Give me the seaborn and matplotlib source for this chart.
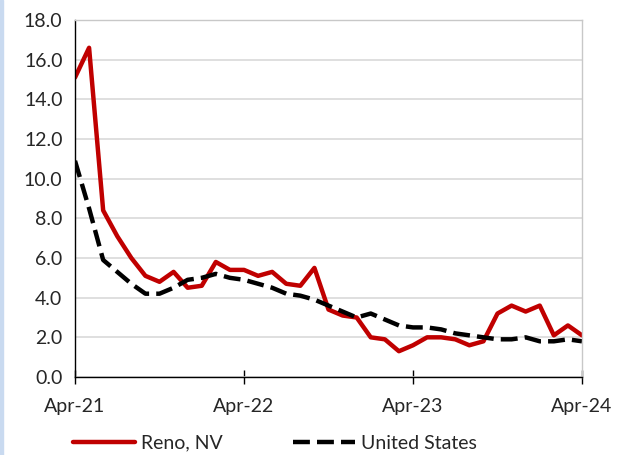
import matplotlib
matplotlib.use("Agg")
import matplotlib.pyplot as plt
import numpy as np
import pandas as pd
import seaborn as sns
from matplotlib.patches import Rectangle

months = pd.date_range("2021-04-01", "2024-04-01", freq="MS")
reno = [15.1, 16.6, 8.4, 7.1, 6.0, 5.1, 4.8, 5.3, 4.5, 4.6, 5.8, 5.4,
        5.4, 5.1, 5.3, 4.7, 4.6, 5.5, 3.4, 3.1, 3.0, 2.0, 1.9, 1.3,
        1.6, 2.0, 2.0, 1.9, 1.6, 1.8, 3.2, 3.6, 3.3, 3.6, 2.1, 2.6,
        2.1]
us = [10.9, 8.5, 5.9, 5.3, 4.7, 4.2, 4.2, 4.5, 4.9, 5.0, 5.2, 5.0,
      4.9, 4.7, 4.5, 4.2, 4.1, 3.9, 3.6, 3.3, 3.0, 3.2, 2.9, 2.6,
      2.5, 2.5, 2.4, 2.2, 2.1, 2.0, 1.9, 1.9, 2.0, 1.8, 1.8, 1.9,
      1.8]
series_names = ["Reno, NV", "United States"]
x_tick_labels = ["Apr-21", "Apr-22", "Apr-23", "Apr-24"]

df = pd.DataFrame({
    "month": np.tile(np.arange(len(months)), 2),
    "value": reno + us,
    "series": np.repeat(series_names, len(months)),
})

sns.set_theme(style="white")
plt.rcParams["font.family"] = ["Lato", "DejaVu Sans"]

fig = plt.figure(figsize=(6.17, 4.55), dpi=100)
ax = fig.add_axes([75 / 617, 1 - 377 / 455, 507 / 617, 357 / 455])

sns.lineplot(
    data=df, x="month", y="value", hue="series", style="series",
    palette={"Reno, NV": "#c00000", "United States": "black"},
    dashes={"Reno, NV": "", "United States": (3.8, 1.6)},
    linewidth=3.2, ax=ax, legend=False,
)

ax.set_xlim(0, len(months) - 1)
ax.set_ylim(0, 18)
ax.set_yticks(np.arange(0, 18.1, 2))
ax.set_yticklabels([f"{v:.1f}" for v in np.arange(0, 18.1, 2)], fontsize=14)
ax.set_xticks(np.arange(0, len(months), 12))
ax.set_xticklabels(x_tick_labels, fontsize=14)
ax.set_xlabel("")
ax.set_ylabel("")

ax.grid(axis="y", color="#d9d9d9", linewidth=1.2)
ax.set_axisbelow(True)
for side in ["top", "right"]:
    ax.spines[side].set_color("#c8c8c8")
    ax.spines[side].set_linewidth(1.0)
for side in ["left", "bottom"]:
    ax.spines[side].set_color("black")
    ax.spines[side].set_linewidth(1.0)

ax.tick_params(axis="x", direction="inout", length=10, width=1, color="black",
               pad=10, bottom=True)
ax.tick_params(axis="y", length=0, pad=9)

handles = [
    plt.Line2D([], [], color="#c00000", linewidth=3.2),
    plt.Line2D([], [], color="black", linewidth=3.2, linestyle=(0, (3.8, 1.6))),
]
fig.legend(handles, series_names, loc="center", bbox_to_anchor=(0.445, 0.026),
           ncol=2, frameon=False, fontsize=14, handlelength=3.2,
           handletextpad=0.3, columnspacing=3.6)

fig.patches.append(Rectangle((0, 0), 3 / 617, 1, transform=fig.transFigure,
                             color="#c9daf0", zorder=0))

fig.savefig("out.png", dpi=100)
